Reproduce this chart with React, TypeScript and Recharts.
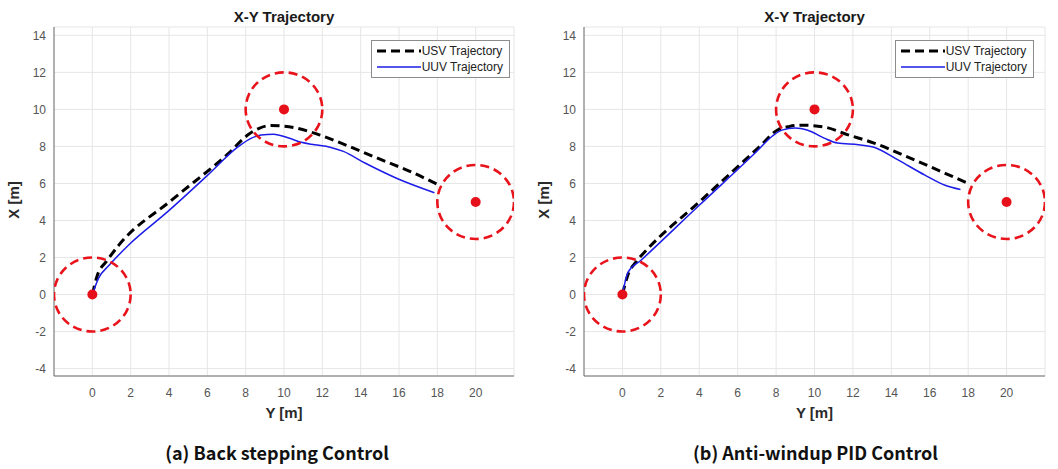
import React from 'react';
import { ComposedChart, Line, Scatter, XAxis, YAxis, CartesianGrid, Legend } from 'recharts';

// (a) Back stepping control
const usvXA = [0, 0.25, 0.76, 1.36, 4.2, 7.12, 8.14, 8.7, 9.3, 10.6, 11.8, 13.4, 15.1, 16.6, 18.0];
const usvYA = [0, 1.0, 1.82, 2.64, 5.15, 7.64, 8.64, 8.98, 9.13, 9.0, 8.64, 8.0, 7.27, 6.64, 5.95];
const uuvXA = [0, 0.34, 0.85, 1.95, 3.9, 6.02, 7.63, 8.3, 8.8, 9.45, 10.25, 10.9, 11.6, 12.4, 13.1, 14.25, 15.9, 17.85];
const uuvYA = [0, 0.91, 1.55, 2.73, 4.45, 6.45, 8.0, 8.45, 8.62, 8.66, 8.45, 8.22, 8.09, 7.96, 7.73, 7.09, 6.27, 5.5];

// (b) Anti-windup PID control
const usvXB = [0, 0.3, 0.7, 1.3, 4.0, 7.1, 8.1, 8.7, 9.3, 10.5, 11.7, 13.1, 15.2, 16.8, 18.0];
const usvYB = [0, 1.1, 1.75, 2.45, 5.0, 7.95, 8.9, 9.08, 9.15, 9.05, 8.64, 8.18, 7.27, 6.55, 6.0];
const uuvXB = [0, 0.29, 0.97, 4.0, 7.0, 7.8, 8.3, 9.0, 9.65, 10.5, 11.2, 12.3, 13.1, 14.35, 15.75, 16.8, 17.6];
const uuvYB = [0, 1.2, 1.85, 4.82, 7.74, 8.55, 8.88, 9.0, 8.87, 8.45, 8.18, 8.09, 7.96, 7.27, 6.45, 5.9, 5.67];

// waypoints and acceptance radius
const waypointX = [0, 10, 20];
const waypointY = [0, 10, 5];
const acceptRadius = 2;

const xTicks = [0, 2, 4, 6, 8, 10, 12, 14, 16, 18, 20];
const yTicks = [-4, -2, 0, 2, 4, 6, 8, 10, 12, 14];

const toPoints = (xs: number[], ys: number[]) => xs.map((x, i) => ({ x, y: ys[i] }));

const CHART_W = 528;
const CHART_H = 469;
const MARGIN_TOP = 27;
const MARGIN_BOTTOM = 63;
const Y_AXIS_W = 54;
const X_AXIS_H = 30;
const X_DOMAIN: [number, number] = [-2, 22];
const Y_DOMAIN: [number, number] = [-4.4, 14.45];

const AXIS_FONT = '"Liberation Sans", Arial, sans-serif';
const CAPTION_FONT = '"Noto Sans CJK KR", "Noto Sans", sans-serif';
const AXIS_COLOR = '#6e6e6e';

const renderLegend = (props: any) => {
  const items = (props.payload || []).filter((p: any) => p.type !== 'none');
  return (
    <div
      style={{
        border: '1px solid #8c8c8c',
        background: '#fff',
        padding: '2px 6px 2px 5px',
        fontFamily: AXIS_FONT,
        fontSize: 12,
        color: '#222',
        lineHeight: '16px',
      }}
    >
      {items.map((item: any) => (
        <div key={item.value} style={{ display: 'flex', alignItems: 'center' }}>
          <svg width={44} height={8} style={{ display: 'block' }}>
            <line
              x1={0}
              y1={4}
              x2={44}
              y2={4}
              stroke={item.color}
              strokeWidth={item.payload?.strokeWidth}
              strokeDasharray={item.payload?.strokeDasharray}
            />
          </svg>
          <span style={{ marginLeft: 1 }}>{item.value}</span>
        </div>
      ))}
    </div>
  );
};

interface PanelProps {
  left: number;
  marginRight: number;
  legendRight: number;
  usv: { x: number; y: number }[];
  uuv: { x: number; y: number }[];
  caption: string;
  captionShift: number;
}

const Panel: React.FC<PanelProps> = ({ left, marginRight, legendRight, usv, uuv, caption, captionShift }) => {
  const plotW = CHART_W - marginRight - Y_AXIS_W;
  const plotH = CHART_H - MARGIN_TOP - MARGIN_BOTTOM - X_AXIS_H;
  const rx = (acceptRadius * plotW) / (X_DOMAIN[1] - X_DOMAIN[0]);
  const ry = (acceptRadius * plotH) / (Y_DOMAIN[1] - Y_DOMAIN[0]);
  const plotCenter = Y_AXIS_W + plotW / 2;
  const waypoints = toPoints(waypointX, waypointY);

  const waypointShape = (p: any) => (
    <g>
      <ellipse cx={p.cx} cy={p.cy} rx={rx} ry={ry} fill="none" stroke="#e8131b" strokeWidth={2.6} strokeDasharray="9 5" />
      <circle cx={p.cx} cy={p.cy} r={5} fill="#e5101a" />
    </g>
  );

  return (
    <div style={{ position: 'absolute', left, top: 0, width: CHART_W, height: CHART_H }}>
      <ComposedChart
        width={CHART_W}
        height={CHART_H}
        margin={{ top: MARGIN_TOP, right: marginRight, bottom: MARGIN_BOTTOM, left: 0 }}
      >
        <CartesianGrid stroke="#e6e6e6" />
        <XAxis
          dataKey="x"
          type="number"
          domain={X_DOMAIN}
          ticks={xTicks}
          allowDataOverflow
          height={X_AXIS_H}
          tickLine={false}
          tickSize={6}
          tickMargin={6}
          axisLine={{ stroke: AXIS_COLOR }}
          tick={{ fill: '#555', fontSize: 12, fontFamily: AXIS_FONT }}
        />
        <XAxis
          xAxisId="top"
          orientation="top"
          type="number"
          domain={X_DOMAIN}
          ticks={xTicks}
          allowDataOverflow
          height={0}
          mirror
          tick={false}
          tickSize={4}
          tickLine={{ stroke: AXIS_COLOR }}
          axisLine={{ stroke: AXIS_COLOR }}
        />
        <YAxis
          type="number"
          domain={Y_DOMAIN}
          ticks={yTicks}
          allowDataOverflow
          width={Y_AXIS_W}
          tickLine={false}
          tickSize={6}
          tickMargin={2}
          axisLine={{ stroke: AXIS_COLOR }}
          tick={{ fill: '#555', fontSize: 12, fontFamily: AXIS_FONT }}
        />
        <YAxis
          yAxisId="right"
          orientation="right"
          type="number"
          domain={Y_DOMAIN}
          ticks={yTicks}
          allowDataOverflow
          width={0}
          mirror
          tick={false}
          tickSize={4}
          tickLine={{ stroke: AXIS_COLOR }}
          axisLine={{ stroke: AXIS_COLOR }}
        />
        <Legend
          layout="vertical"
          verticalAlign="middle"
          align="center"
          content={renderLegend}
          wrapperStyle={{ top: 40, right: legendRight, left: 'auto', width: 'auto' }}
        />
        <Line
          data={usv}
          dataKey="y"
          name="USV Trajectory"
          type="monotone"
          stroke="#000"
          strokeWidth={3}
          strokeDasharray="9 5"
          dot={false}
          isAnimationActive={false}
        />
        <Line
          data={uuv}
          dataKey="y"
          name="UUV Trajectory"
          type="monotone"
          stroke="#1c1ce8"
          strokeWidth={1.5}
          dot={false}
          isAnimationActive={false}
        />
        <Scatter
          data={waypoints}
          dataKey="y"
          legendType="none"
          shape={waypointShape}
          isAnimationActive={false}
        />
      </ComposedChart>
      <div
        style={{
          position: 'absolute', left: plotCenter - 100, width: 200, top: 7, textAlign: 'center',
          fontFamily: AXIS_FONT, fontWeight: 'bold', fontSize: 15, color: '#1a1a1a', lineHeight: '20px',
        }}
      >
        X-Y Trajectory
      </div>
      <div
        style={{
          position: 'absolute', left: plotCenter - 60, width: 120, top: 403, textAlign: 'center',
          fontFamily: AXIS_FONT, fontWeight: 'bold', fontSize: 15, color: '#2a2a2a', lineHeight: '20px',
        }}
      >
        Y [m]
      </div>
      <div
        style={{
          position: 'absolute', left: 14 - 40, width: 80, top: 190, textAlign: 'center',
          transform: 'rotate(-90deg)', fontFamily: AXIS_FONT, fontWeight: 'bold', fontSize: 15,
          color: '#2a2a2a', lineHeight: '20px',
        }}
      >
        X [m]
      </div>
      <div
        style={{
          position: 'absolute', left: plotCenter + captionShift - 200, width: 400, top: 440, textAlign: 'center',
          fontFamily: CAPTION_FONT, fontWeight: 'bold', fontSize: 18, color: '#111', lineHeight: '24px',
        }}
      >
        {caption}
      </div>
    </div>
  );
};

export default function App() {
  return (
    <div style={{ position: 'absolute', left: 0, top: 0, width: 1058, height: 469, background: '#fff', overflow: 'hidden' }}>
      <Panel
        left={0}
        marginRight={14}
        legendRight={18}
        usv={toPoints(usvXA, usvYA)}
        uuv={toPoints(uuvXA, uuvYA)}
        caption="(a) Back stepping Control"
        captionShift={-7}
      />
      <Panel
        left={530}
        marginRight={13}
        legendRight={24}
        usv={toPoints(usvXB, usvYB)}
        uuv={toPoints(uuvXB, uuvYB)}
        caption="(b) Anti-windup PID Control"
        captionShift={1}
      />
    </div>
  );
}
